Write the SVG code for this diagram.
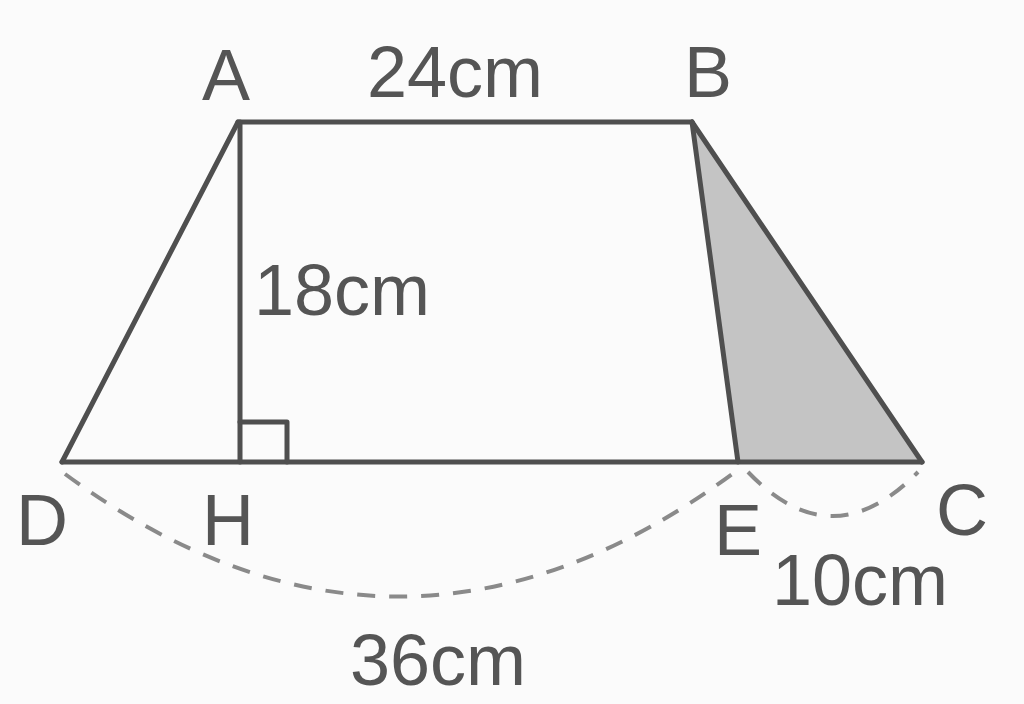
<svg xmlns="http://www.w3.org/2000/svg" width="1024" height="704" viewBox="0 0 1024 704">
<style>
.ln{stroke:#4f4f4f;stroke-width:5;fill:none;stroke-linecap:round;stroke-linejoin:round}
.ds{stroke:#8a8a8a;stroke-width:4;fill:none;stroke-dasharray:18 14}
text{font-family:"Liberation Sans",Arial,sans-serif;font-size:72px;fill:#555;text-anchor:middle}
</style>
<rect width="1024" height="704" fill="#fbfbfb"/>
<g id="shade"><polygon points="692,122 738,462 922,462" fill="#c4c4c4"/></g>
<g id="connectors">
<line class="ln" x1="238" y1="122" x2="692" y2="122"/>
<line class="ln" x1="238" y1="122" x2="62" y2="462"/>
<line class="ln" x1="692" y1="122" x2="922" y2="462"/>
<line class="ln" x1="62" y1="462" x2="922" y2="462"/>
<line class="ln" x1="240" y1="122" x2="240" y2="462"/>
<line class="ln" x1="692" y1="122" x2="738" y2="462"/>
<polyline class="ln" points="240,422 287,422 287,462"/>
<path class="ds" d="M65 474 Q400 720 735 472"/>
<path class="ds" d="M748 472 Q832 560 918 472"/>
</g>
<g id="labels">
<text x="226" y="100">A</text>
<text x="455" y="97">24cm</text>
<text x="708" y="97">B</text>
<text x="342" y="315">18cm</text>
<text x="42" y="545">D</text>
<text x="228" y="545">H</text>
<text x="738" y="555">E</text>
<text x="962" y="535">C</text>
<text x="860" y="605">10cm</text>
<text x="438" y="685">36cm</text>
</g>
</svg>
